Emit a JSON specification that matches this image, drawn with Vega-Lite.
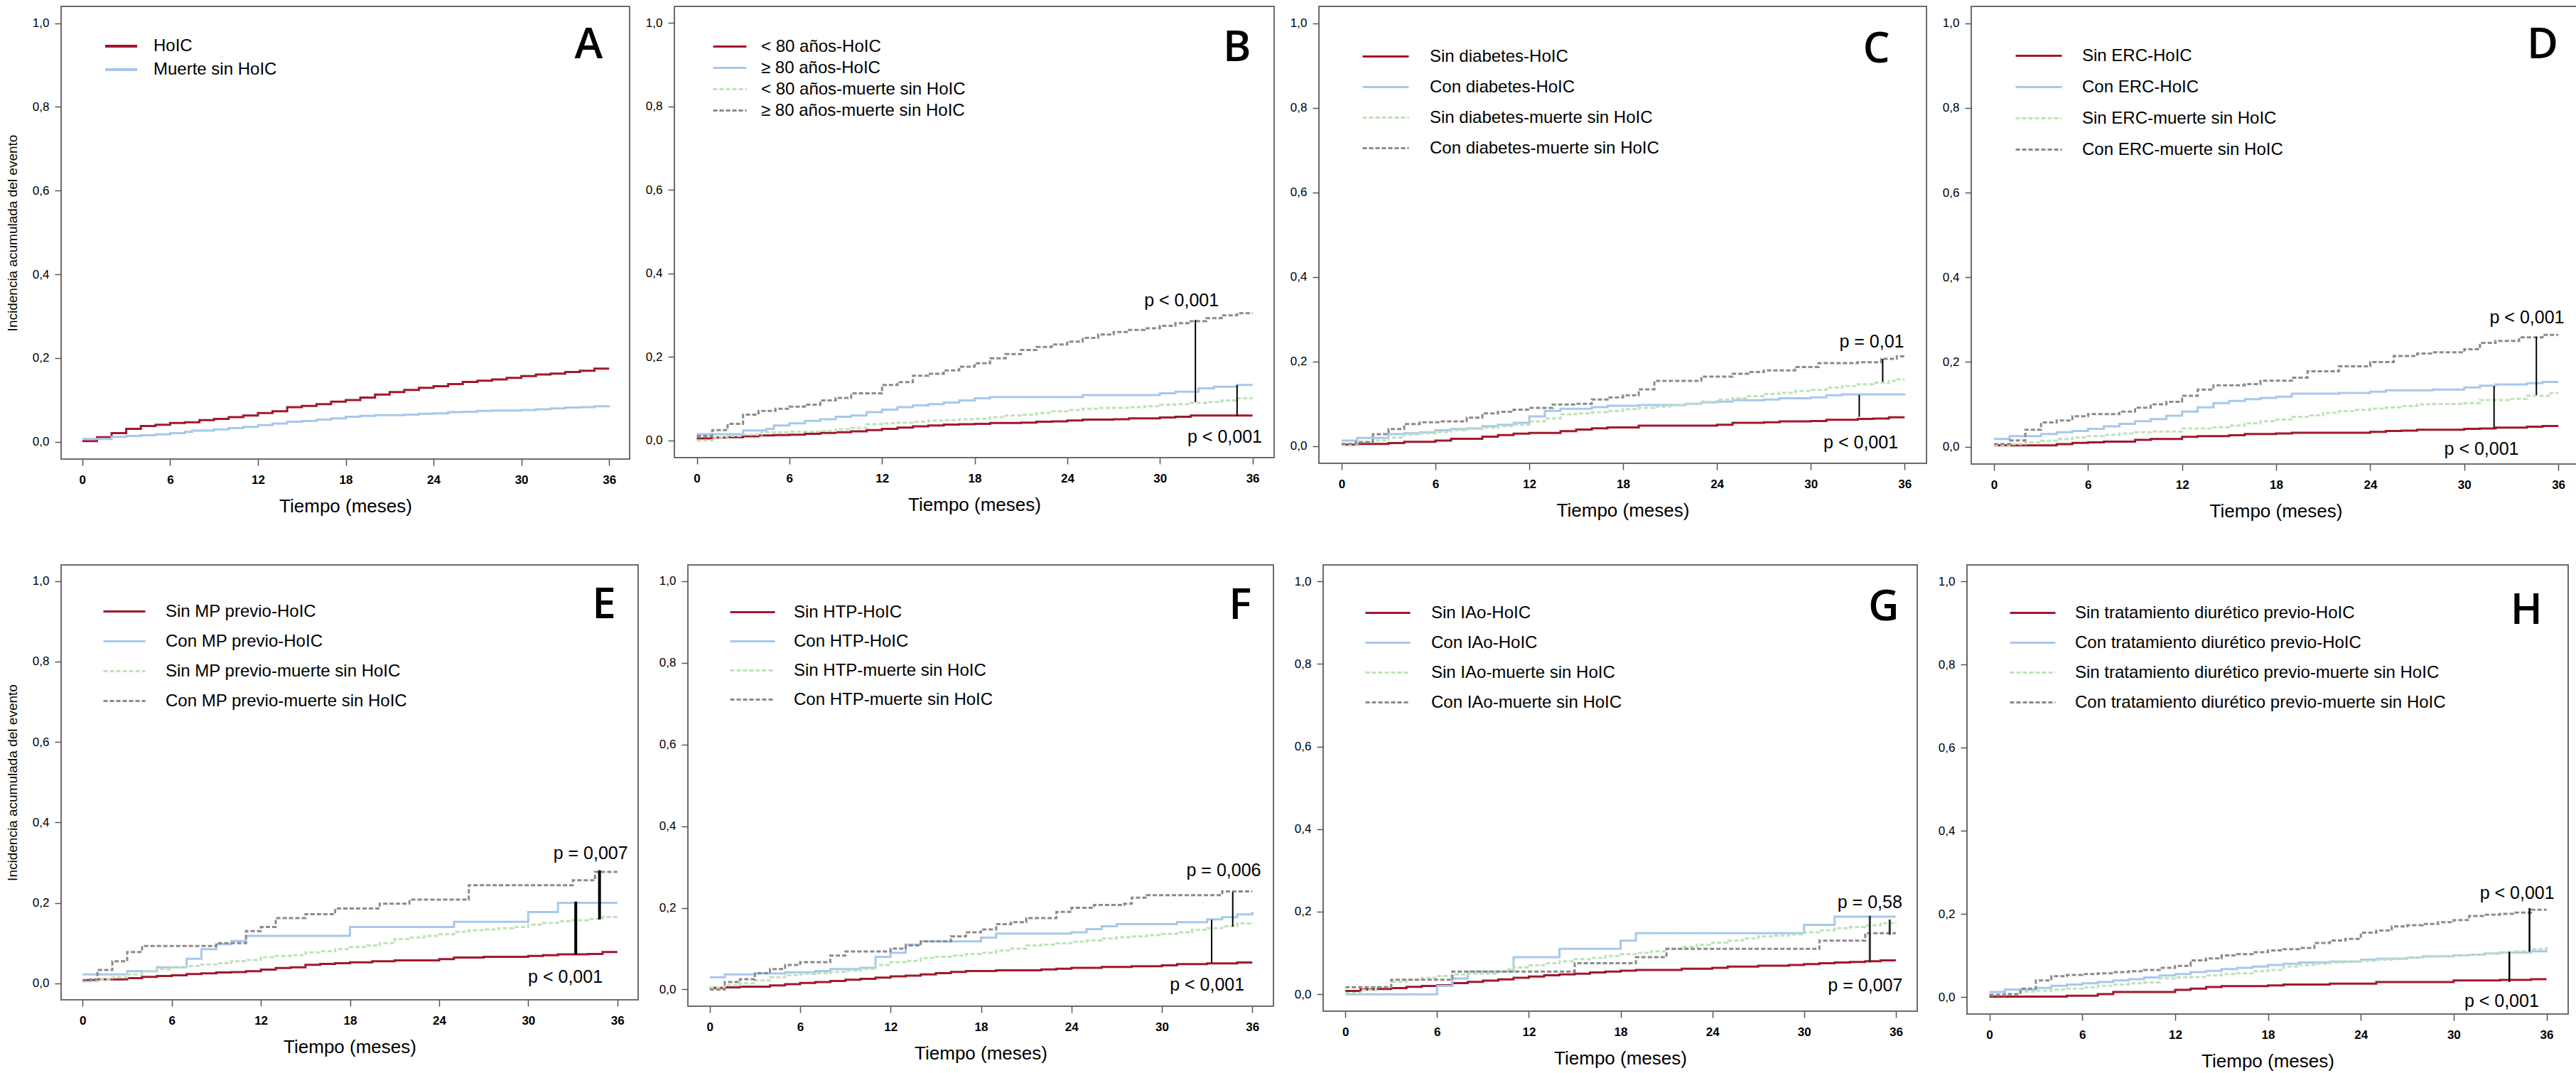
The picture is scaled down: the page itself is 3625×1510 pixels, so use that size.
{
"$schema": "https://vega.github.io/schema/vega-lite/v6.json",
"background": "white",
"padding": {"left": 7, "top": 8, "right": 5, "bottom": 5},
"config": {
  "font": "Liberation Sans",
  "view": {"stroke": "#6b6b6b", "strokeWidth": 2},
  "axis": {"grid": false, "domain": false, "tickSize": 9, "tickWidth": 1.5, "tickColor": "#555555", "labelColor": "black", "titleColor": "black", "labelFont": "Liberation Sans", "titleFontWeight": "normal"},
  "axisX": {"labelFontSize": 17, "labelFontWeight": "bold", "labelPadding": 12, "titleFont": "Liberation Sans", "titleFontSize": 26, "titlePadding": 16},
  "axisY": {"labelFontSize": 17, "labelPadding": 8, "titleFont": "Liberation Sans", "titleFontSize": 19, "titlePadding": 18},
  "legend": {"labelFont": "Liberation Sans", "labelFontSize": 24, "labelColor": "black", "labelLimit": 0, "padding": 0, "symbolStrokeWidth": 3, "symbolSize": 441}
},
"datasets": {
"A": [
{"s":1,"t":0,"y":0.002},{"s":1,"t":1,"y":0.011},{"s":1,"t":2,"y":0.021},{"s":1,"t":3,"y":0.031},{"s":1,"t":4,"y":0.038},{"s":1,"t":5,"y":0.041},{"s":1,"t":6,"y":0.045},{"s":1,"t":7,"y":0.047},{"s":1,"t":8,"y":0.052},{"s":1,"t":9,"y":0.055},{"s":1,"t":10,"y":0.059},{"s":1,"t":11,"y":0.063},{"s":1,"t":12,"y":0.069},{"s":1,"t":13,"y":0.073},{"s":1,"t":14,"y":0.083},{"s":1,"t":15,"y":0.086},{"s":1,"t":16,"y":0.09},{"s":1,"t":17,"y":0.096},{"s":1,"t":18,"y":0.1},{"s":1,"t":19,"y":0.106},{"s":1,"t":20,"y":0.113},{"s":1,"t":21,"y":0.119},{"s":1,"t":22,"y":0.124},{"s":1,"t":23,"y":0.129},{"s":1,"t":24,"y":0.133},{"s":1,"t":25,"y":0.138},{"s":1,"t":26,"y":0.143},{"s":1,"t":27,"y":0.146},{"s":1,"t":28,"y":0.149},{"s":1,"t":29,"y":0.153},{"s":1,"t":30,"y":0.157},{"s":1,"t":31,"y":0.161},{"s":1,"t":32,"y":0.163},{"s":1,"t":33,"y":0.167},{"s":1,"t":34,"y":0.17},{"s":1,"t":35,"y":0.175},{"s":1,"t":36,"y":0.175},
{"s":2,"t":0,"y":0.007},{"s":2,"t":2,"y":0.012},{"s":2,"t":3,"y":0.014},{"s":2,"t":4,"y":0.016},{"s":2,"t":5,"y":0.018},{"s":2,"t":6,"y":0.021},{"s":2,"t":7,"y":0.024},{"s":2,"t":7.5,"y":0.027},{"s":2,"t":9,"y":0.03},{"s":2,"t":10,"y":0.033},{"s":2,"t":11,"y":0.036},{"s":2,"t":12,"y":0.04},{"s":2,"t":13,"y":0.044},{"s":2,"t":14,"y":0.048},{"s":2,"t":15,"y":0.05},{"s":2,"t":16,"y":0.053},{"s":2,"t":17,"y":0.056},{"s":2,"t":18,"y":0.06},{"s":2,"t":19,"y":0.062},{"s":2,"t":20,"y":0.064},{"s":2,"t":22,"y":0.065},{"s":2,"t":23,"y":0.067},{"s":2,"t":24,"y":0.068},{"s":2,"t":25,"y":0.071},{"s":2,"t":26,"y":0.072},{"s":2,"t":27,"y":0.074},{"s":2,"t":28,"y":0.075},{"s":2,"t":30,"y":0.076},{"s":2,"t":31,"y":0.078},{"s":2,"t":32,"y":0.08},{"s":2,"t":33,"y":0.082},{"s":2,"t":34,"y":0.083},{"s":2,"t":35,"y":0.085},{"s":2,"t":36,"y":0.086}
],
"B": [
{"s":1,"t":0,"y":0.005},{"s":1,"t":1,"y":0.007},{"s":1,"t":2,"y":0.008},{"s":1,"t":3,"y":0.01},{"s":1,"t":4,"y":0.012},{"s":1,"t":5,"y":0.013},{"s":1,"t":6,"y":0.014},{"s":1,"t":7,"y":0.016},{"s":1,"t":8,"y":0.018},{"s":1,"t":9,"y":0.02},{"s":1,"t":10,"y":0.022},{"s":1,"t":11,"y":0.025},{"s":1,"t":12,"y":0.028},{"s":1,"t":13,"y":0.031},{"s":1,"t":14,"y":0.034},{"s":1,"t":15,"y":0.036},{"s":1,"t":16,"y":0.038},{"s":1,"t":17,"y":0.039},{"s":1,"t":18,"y":0.04},{"s":1,"t":19,"y":0.042},{"s":1,"t":21,"y":0.043},{"s":1,"t":22,"y":0.045},{"s":1,"t":23,"y":0.046},{"s":1,"t":24,"y":0.048},{"s":1,"t":25,"y":0.05},{"s":1,"t":27,"y":0.051},{"s":1,"t":28,"y":0.053},{"s":1,"t":30,"y":0.055},{"s":1,"t":31,"y":0.057},{"s":1,"t":32,"y":0.06},{"s":1,"t":36,"y":0.06},
{"s":2,"t":0,"y":0.015},{"s":2,"t":3,"y":0.024},{"s":2,"t":4.5,"y":0.028},{"s":2,"t":5,"y":0.036},{"s":2,"t":6,"y":0.041},{"s":2,"t":7,"y":0.047},{"s":2,"t":8,"y":0.051},{"s":2,"t":9,"y":0.057},{"s":2,"t":10,"y":0.06},{"s":2,"t":11,"y":0.068},{"s":2,"t":12,"y":0.074},{"s":2,"t":13,"y":0.08},{"s":2,"t":14,"y":0.084},{"s":2,"t":15,"y":0.087},{"s":2,"t":16,"y":0.091},{"s":2,"t":17,"y":0.096},{"s":2,"t":18,"y":0.101},{"s":2,"t":19,"y":0.104},{"s":2,"t":25,"y":0.109},{"s":2,"t":30,"y":0.113},{"s":2,"t":31,"y":0.117},{"s":2,"t":32.5,"y":0.125},{"s":2,"t":33.5,"y":0.129},{"s":2,"t":35,"y":0.133},{"s":2,"t":36,"y":0.133},
{"s":3,"t":0,"y":0},{"s":3,"t":1,"y":0.008},{"s":3,"t":2,"y":0.011},{"s":3,"t":3,"y":0.014},{"s":3,"t":4.2,"y":0.02},{"s":3,"t":6,"y":0.021},{"s":3,"t":8,"y":0.023},{"s":3,"t":9,"y":0.027},{"s":3,"t":10,"y":0.03},{"s":3,"t":11,"y":0.039},{"s":3,"t":12,"y":0.041},{"s":3,"t":13,"y":0.043},{"s":3,"t":14,"y":0.045},{"s":3,"t":15,"y":0.048},{"s":3,"t":16,"y":0.049},{"s":3,"t":17,"y":0.051},{"s":3,"t":18,"y":0.052},{"s":3,"t":19,"y":0.056},{"s":3,"t":20,"y":0.06},{"s":3,"t":21,"y":0.062},{"s":3,"t":22,"y":0.066},{"s":3,"t":23,"y":0.07},{"s":3,"t":24,"y":0.073},{"s":3,"t":25,"y":0.076},{"s":3,"t":26,"y":0.078},{"s":3,"t":28,"y":0.08},{"s":3,"t":29,"y":0.082},{"s":3,"t":30,"y":0.086},{"s":3,"t":31,"y":0.087},{"s":3,"t":32,"y":0.09},{"s":3,"t":33,"y":0.092},{"s":3,"t":34,"y":0.096},{"s":3,"t":35,"y":0.101},{"s":3,"t":36,"y":0.101},
{"s":4,"t":0,"y":0.011},{"s":4,"t":1,"y":0.025},{"s":4,"t":2,"y":0.04},{"s":4,"t":3,"y":0.062},{"s":4,"t":4,"y":0.071},{"s":4,"t":5.1,"y":0.076},{"s":4,"t":6,"y":0.081},{"s":4,"t":7,"y":0.086},{"s":4,"t":8,"y":0.096},{"s":4,"t":9,"y":0.102},{"s":4,"t":10,"y":0.113},{"s":4,"t":12,"y":0.133},{"s":4,"t":13,"y":0.14},{"s":4,"t":14,"y":0.155},{"s":4,"t":15,"y":0.16},{"s":4,"t":16,"y":0.168},{"s":4,"t":17,"y":0.177},{"s":4,"t":18,"y":0.185},{"s":4,"t":19,"y":0.197},{"s":4,"t":20,"y":0.207},{"s":4,"t":21,"y":0.217},{"s":4,"t":22,"y":0.224},{"s":4,"t":23,"y":0.23},{"s":4,"t":24,"y":0.237},{"s":4,"t":25,"y":0.246},{"s":4,"t":26,"y":0.254},{"s":4,"t":27,"y":0.26},{"s":4,"t":28,"y":0.265},{"s":4,"t":29,"y":0.269},{"s":4,"t":30,"y":0.275},{"s":4,"t":31,"y":0.281},{"s":4,"t":32,"y":0.286},{"s":4,"t":33,"y":0.293},{"s":4,"t":34,"y":0.3},{"s":4,"t":35,"y":0.305},{"s":4,"t":36,"y":0.305}
],
"C": [
{"s":1,"t":0,"y":0.003},{"s":1,"t":1,"y":0.005},{"s":1,"t":3,"y":0.007},{"s":1,"t":4,"y":0.01},{"s":1,"t":6,"y":0.013},{"s":1,"t":7,"y":0.017},{"s":1,"t":9,"y":0.022},{"s":1,"t":10,"y":0.026},{"s":1,"t":11,"y":0.029},{"s":1,"t":12,"y":0.031},{"s":1,"t":14,"y":0.035},{"s":1,"t":15,"y":0.039},{"s":1,"t":16,"y":0.042},{"s":1,"t":17,"y":0.044},{"s":1,"t":19,"y":0.048},{"s":1,"t":24,"y":0.05},{"s":1,"t":25,"y":0.055},{"s":1,"t":27,"y":0.056},{"s":1,"t":28,"y":0.058},{"s":1,"t":30,"y":0.059},{"s":1,"t":31,"y":0.062},{"s":1,"t":33,"y":0.064},{"s":1,"t":34,"y":0.065},{"s":1,"t":35,"y":0.068},{"s":1,"t":36,"y":0.068},
{"s":2,"t":0,"y":0.013},{"s":2,"t":1,"y":0.019},{"s":2,"t":3,"y":0.028},{"s":2,"t":4,"y":0.03},{"s":2,"t":5,"y":0.032},{"s":2,"t":6,"y":0.037},{"s":2,"t":7,"y":0.04},{"s":2,"t":8,"y":0.042},{"s":2,"t":9,"y":0.047},{"s":2,"t":10,"y":0.05},{"s":2,"t":11,"y":0.055},{"s":2,"t":12,"y":0.07},{"s":2,"t":13,"y":0.083},{"s":2,"t":14,"y":0.088},{"s":2,"t":16,"y":0.092},{"s":2,"t":17,"y":0.095},{"s":2,"t":19,"y":0.097},{"s":2,"t":22,"y":0.1},{"s":2,"t":23,"y":0.103},{"s":2,"t":24,"y":0.105},{"s":2,"t":25,"y":0.108},{"s":2,"t":27,"y":0.11},{"s":2,"t":28,"y":0.113},{"s":2,"t":30,"y":0.115},{"s":2,"t":31,"y":0.12},{"s":2,"t":32,"y":0.122},{"s":2,"t":36,"y":0.123},
{"s":3,"t":0,"y":0.003},{"s":3,"t":1,"y":0.01},{"s":3,"t":2,"y":0.013},{"s":3,"t":3,"y":0.02},{"s":3,"t":4,"y":0.027},{"s":3,"t":5,"y":0.03},{"s":3,"t":6,"y":0.033},{"s":3,"t":7,"y":0.037},{"s":3,"t":8,"y":0.04},{"s":3,"t":9,"y":0.043},{"s":3,"t":10,"y":0.047},{"s":3,"t":11,"y":0.05},{"s":3,"t":12,"y":0.058},{"s":3,"t":13,"y":0.065},{"s":3,"t":14,"y":0.075},{"s":3,"t":15,"y":0.077},{"s":3,"t":16,"y":0.08},{"s":3,"t":17,"y":0.083},{"s":3,"t":18,"y":0.087},{"s":3,"t":19,"y":0.09},{"s":3,"t":20,"y":0.093},{"s":3,"t":21,"y":0.097},{"s":3,"t":22,"y":0.1},{"s":3,"t":23,"y":0.105},{"s":3,"t":24,"y":0.11},{"s":3,"t":25,"y":0.113},{"s":3,"t":26,"y":0.118},{"s":3,"t":27,"y":0.123},{"s":3,"t":28,"y":0.126},{"s":3,"t":29,"y":0.13},{"s":3,"t":30,"y":0.133},{"s":3,"t":31,"y":0.138},{"s":3,"t":32,"y":0.142},{"s":3,"t":33,"y":0.146},{"s":3,"t":34,"y":0.15},{"s":3,"t":35,"y":0.154},{"s":3,"t":35.5,"y":0.158},{"s":3,"t":36,"y":0.158},
{"s":4,"t":0,"y":0.005},{"s":4,"t":0.9,"y":0.009},{"s":4,"t":2,"y":0.028},{"s":4,"t":3,"y":0.04},{"s":4,"t":4,"y":0.052},{"s":4,"t":5,"y":0.056},{"s":4,"t":6.3,"y":0.058},{"s":4,"t":8,"y":0.067},{"s":4,"t":9,"y":0.077},{"s":4,"t":10,"y":0.081},{"s":4,"t":11,"y":0.086},{"s":4,"t":12,"y":0.09},{"s":4,"t":13.5,"y":0.098},{"s":4,"t":15,"y":0.1},{"s":4,"t":16,"y":0.11},{"s":4,"t":17,"y":0.115},{"s":4,"t":18,"y":0.12},{"s":4,"t":19,"y":0.134},{"s":4,"t":20,"y":0.154},{"s":4,"t":23,"y":0.164},{"s":4,"t":25,"y":0.171},{"s":4,"t":26,"y":0.175},{"s":4,"t":27,"y":0.179},{"s":4,"t":29,"y":0.187},{"s":4,"t":30.5,"y":0.196},{"s":4,"t":33,"y":0.198},{"s":4,"t":34.5,"y":0.206},{"s":4,"t":35.5,"y":0.212},{"s":4,"t":36,"y":0.212}
],
"D": [
{"s":1,"t":0,"y":0.003},{"s":1,"t":4,"y":0.006},{"s":1,"t":5,"y":0.009},{"s":1,"t":6,"y":0.01},{"s":1,"t":7,"y":0.012},{"s":1,"t":9,"y":0.016},{"s":1,"t":10,"y":0.018},{"s":1,"t":12,"y":0.023},{"s":1,"t":13,"y":0.025},{"s":1,"t":15,"y":0.027},{"s":1,"t":16,"y":0.03},{"s":1,"t":18,"y":0.031},{"s":1,"t":19,"y":0.033},{"s":1,"t":24,"y":0.035},{"s":1,"t":25,"y":0.037},{"s":1,"t":26,"y":0.038},{"s":1,"t":27,"y":0.04},{"s":1,"t":30,"y":0.042},{"s":1,"t":31,"y":0.043},{"s":1,"t":32,"y":0.045},{"s":1,"t":34,"y":0.047},{"s":1,"t":35,"y":0.049},{"s":1,"t":36,"y":0.049},
{"s":2,"t":0,"y":0.018},{"s":2,"t":1,"y":0.025},{"s":2,"t":3,"y":0.03},{"s":2,"t":4,"y":0.034},{"s":2,"t":5,"y":0.037},{"s":2,"t":6,"y":0.042},{"s":2,"t":7,"y":0.048},{"s":2,"t":8,"y":0.054},{"s":2,"t":9,"y":0.06},{"s":2,"t":10,"y":0.065},{"s":2,"t":11,"y":0.073},{"s":2,"t":12,"y":0.083},{"s":2,"t":13,"y":0.093},{"s":2,"t":14,"y":0.103},{"s":2,"t":15,"y":0.108},{"s":2,"t":16,"y":0.112},{"s":2,"t":17,"y":0.115},{"s":2,"t":18,"y":0.118},{"s":2,"t":19,"y":0.125},{"s":2,"t":22,"y":0.127},{"s":2,"t":24,"y":0.13},{"s":2,"t":25,"y":0.133},{"s":2,"t":28,"y":0.135},{"s":2,"t":30,"y":0.14},{"s":2,"t":31,"y":0.144},{"s":2,"t":32,"y":0.147},{"s":2,"t":34,"y":0.15},{"s":2,"t":35,"y":0.153},{"s":2,"t":36,"y":0.153},
{"s":3,"t":0,"y":0.003},{"s":3,"t":1,"y":0.006},{"s":3,"t":2,"y":0.01},{"s":3,"t":3,"y":0.014},{"s":3,"t":4,"y":0.018},{"s":3,"t":5,"y":0.022},{"s":3,"t":6,"y":0.025},{"s":3,"t":7,"y":0.028},{"s":3,"t":8,"y":0.031},{"s":3,"t":9,"y":0.034},{"s":3,"t":10,"y":0.036},{"s":3,"t":12,"y":0.043},{"s":3,"t":14,"y":0.046},{"s":3,"t":15,"y":0.05},{"s":3,"t":16,"y":0.055},{"s":3,"t":17,"y":0.06},{"s":3,"t":18,"y":0.064},{"s":3,"t":19,"y":0.07},{"s":3,"t":20,"y":0.074},{"s":3,"t":21,"y":0.08},{"s":3,"t":22,"y":0.084},{"s":3,"t":23,"y":0.087},{"s":3,"t":24,"y":0.09},{"s":3,"t":25,"y":0.093},{"s":3,"t":26,"y":0.096},{"s":3,"t":27,"y":0.1},{"s":3,"t":28,"y":0.101},{"s":3,"t":30,"y":0.103},{"s":3,"t":31,"y":0.11},{"s":3,"t":33,"y":0.113},{"s":3,"t":34,"y":0.12},{"s":3,"t":35.5,"y":0.127},{"s":3,"t":36,"y":0.127},
{"s":4,"t":0,"y":0.006},{"s":4,"t":1,"y":0.015},{"s":4,"t":2,"y":0.04},{"s":4,"t":3,"y":0.057},{"s":4,"t":4,"y":0.062},{"s":4,"t":5,"y":0.072},{"s":4,"t":6,"y":0.077},{"s":4,"t":8,"y":0.083},{"s":4,"t":9,"y":0.092},{"s":4,"t":10,"y":0.1},{"s":4,"t":11,"y":0.106},{"s":4,"t":12,"y":0.12},{"s":4,"t":13,"y":0.135},{"s":4,"t":14,"y":0.145},{"s":4,"t":16,"y":0.148},{"s":4,"t":17,"y":0.156},{"s":4,"t":19,"y":0.163},{"s":4,"t":20,"y":0.178},{"s":4,"t":22,"y":0.19},{"s":4,"t":24,"y":0.2},{"s":4,"t":25.5,"y":0.214},{"s":4,"t":27,"y":0.22},{"s":4,"t":28,"y":0.223},{"s":4,"t":30,"y":0.23},{"s":4,"t":31,"y":0.245},{"s":4,"t":32,"y":0.25},{"s":4,"t":33.5,"y":0.258},{"s":4,"t":35,"y":0.264},{"s":4,"t":36,"y":0.264}
],
"E": [
{"s":1,"t":0,"y":0.008},{"s":1,"t":1,"y":0.01},{"s":1,"t":3,"y":0.013},{"s":1,"t":4,"y":0.016},{"s":1,"t":5,"y":0.018},{"s":1,"t":6,"y":0.02},{"s":1,"t":7,"y":0.023},{"s":1,"t":8,"y":0.025},{"s":1,"t":9,"y":0.027},{"s":1,"t":10,"y":0.028},{"s":1,"t":11,"y":0.03},{"s":1,"t":12,"y":0.034},{"s":1,"t":13,"y":0.038},{"s":1,"t":14,"y":0.04},{"s":1,"t":15,"y":0.046},{"s":1,"t":16,"y":0.048},{"s":1,"t":17,"y":0.05},{"s":1,"t":18,"y":0.052},{"s":1,"t":19.5,"y":0.055},{"s":1,"t":21,"y":0.057},{"s":1,"t":24,"y":0.06},{"s":1,"t":25,"y":0.064},{"s":1,"t":27,"y":0.066},{"s":1,"t":30,"y":0.068},{"s":1,"t":31,"y":0.07},{"s":1,"t":32,"y":0.072},{"s":1,"t":34,"y":0.073},{"s":1,"t":35,"y":0.078},{"s":1,"t":36,"y":0.078},
{"s":2,"t":0,"y":0.022},{"s":2,"t":3,"y":0.03},{"s":2,"t":5,"y":0.04},{"s":2,"t":7,"y":0.061},{"s":2,"t":8,"y":0.085},{"s":2,"t":9,"y":0.097},{"s":2,"t":10,"y":0.105},{"s":2,"t":11,"y":0.118},{"s":2,"t":18,"y":0.14},{"s":2,"t":25,"y":0.153},{"s":2,"t":30,"y":0.177},{"s":2,"t":32,"y":0.2},{"s":2,"t":36,"y":0.2},
{"s":3,"t":0,"y":0.005},{"s":3,"t":1,"y":0.01},{"s":3,"t":2,"y":0.015},{"s":3,"t":3,"y":0.022},{"s":3,"t":4,"y":0.03},{"s":3,"t":5,"y":0.035},{"s":3,"t":6,"y":0.04},{"s":3,"t":7,"y":0.043},{"s":3,"t":8,"y":0.047},{"s":3,"t":9,"y":0.05},{"s":3,"t":10,"y":0.055},{"s":3,"t":11,"y":0.058},{"s":3,"t":12,"y":0.065},{"s":3,"t":13,"y":0.068},{"s":3,"t":14,"y":0.07},{"s":3,"t":15,"y":0.077},{"s":3,"t":16,"y":0.08},{"s":3,"t":17,"y":0.085},{"s":3,"t":18,"y":0.09},{"s":3,"t":19,"y":0.094},{"s":3,"t":20,"y":0.1},{"s":3,"t":21,"y":0.11},{"s":3,"t":22,"y":0.114},{"s":3,"t":23,"y":0.118},{"s":3,"t":24,"y":0.122},{"s":3,"t":25,"y":0.128},{"s":3,"t":26,"y":0.132},{"s":3,"t":27,"y":0.134},{"s":3,"t":28,"y":0.137},{"s":3,"t":29,"y":0.14},{"s":3,"t":30,"y":0.146},{"s":3,"t":31,"y":0.15},{"s":3,"t":32,"y":0.154},{"s":3,"t":33,"y":0.157},{"s":3,"t":34,"y":0.16},{"s":3,"t":35,"y":0.165},{"s":3,"t":36,"y":0.165},
{"s":4,"t":0,"y":0.007},{"s":4,"t":0.5,"y":0.01},{"s":4,"t":1,"y":0.033},{"s":4,"t":2,"y":0.055},{"s":4,"t":3,"y":0.078},{"s":4,"t":4,"y":0.093},{"s":4,"t":9,"y":0.1},{"s":4,"t":11,"y":0.13},{"s":4,"t":12,"y":0.14},{"s":4,"t":13,"y":0.162},{"s":4,"t":15,"y":0.172},{"s":4,"t":17,"y":0.186},{"s":4,"t":20,"y":0.198},{"s":4,"t":22,"y":0.208},{"s":4,"t":26,"y":0.244},{"s":4,"t":33,"y":0.256},{"s":4,"t":34.5,"y":0.277},{"s":4,"t":36,"y":0.277}
],
"F": [
{"s":1,"t":0,"y":0.004},{"s":1,"t":1,"y":0.005},{"s":1,"t":2,"y":0.007},{"s":1,"t":4,"y":0.01},{"s":1,"t":5,"y":0.013},{"s":1,"t":6,"y":0.016},{"s":1,"t":7,"y":0.018},{"s":1,"t":8,"y":0.021},{"s":1,"t":9,"y":0.024},{"s":1,"t":10,"y":0.026},{"s":1,"t":11,"y":0.029},{"s":1,"t":12,"y":0.032},{"s":1,"t":13,"y":0.034},{"s":1,"t":14,"y":0.037},{"s":1,"t":15,"y":0.04},{"s":1,"t":16,"y":0.043},{"s":1,"t":17,"y":0.045},{"s":1,"t":19,"y":0.047},{"s":1,"t":22,"y":0.049},{"s":1,"t":23,"y":0.051},{"s":1,"t":24,"y":0.053},{"s":1,"t":26,"y":0.055},{"s":1,"t":28,"y":0.057},{"s":1,"t":30,"y":0.059},{"s":1,"t":31,"y":0.062},{"s":1,"t":33,"y":0.064},{"s":1,"t":35,"y":0.066},{"s":1,"t":36,"y":0.066},
{"s":2,"t":0,"y":0.03},{"s":2,"t":1,"y":0.037},{"s":2,"t":3,"y":0.039},{"s":2,"t":5,"y":0.042},{"s":2,"t":7,"y":0.045},{"s":2,"t":8,"y":0.05},{"s":2,"t":10,"y":0.053},{"s":2,"t":11,"y":0.08},{"s":2,"t":12,"y":0.09},{"s":2,"t":13,"y":0.11},{"s":2,"t":14,"y":0.118},{"s":2,"t":18,"y":0.127},{"s":2,"t":19,"y":0.137},{"s":2,"t":24,"y":0.14},{"s":2,"t":25,"y":0.148},{"s":2,"t":26,"y":0.155},{"s":2,"t":27,"y":0.16},{"s":2,"t":31,"y":0.165},{"s":2,"t":33,"y":0.172},{"s":2,"t":34,"y":0.177},{"s":2,"t":35,"y":0.184},{"s":2,"t":36,"y":0.19},
{"s":3,"t":0,"y":0.005},{"s":3,"t":1,"y":0.01},{"s":3,"t":2,"y":0.015},{"s":3,"t":3,"y":0.022},{"s":3,"t":4,"y":0.03},{"s":3,"t":5,"y":0.035},{"s":3,"t":6,"y":0.038},{"s":3,"t":7,"y":0.04},{"s":3,"t":8,"y":0.043},{"s":3,"t":9,"y":0.046},{"s":3,"t":10,"y":0.05},{"s":3,"t":11,"y":0.06},{"s":3,"t":12,"y":0.067},{"s":3,"t":13,"y":0.07},{"s":3,"t":14,"y":0.077},{"s":3,"t":15,"y":0.08},{"s":3,"t":16,"y":0.083},{"s":3,"t":17,"y":0.087},{"s":3,"t":18,"y":0.09},{"s":3,"t":19,"y":0.095},{"s":3,"t":20,"y":0.1},{"s":3,"t":21,"y":0.108},{"s":3,"t":22,"y":0.11},{"s":3,"t":23,"y":0.113},{"s":3,"t":24,"y":0.117},{"s":3,"t":25,"y":0.12},{"s":3,"t":26,"y":0.125},{"s":3,"t":27,"y":0.128},{"s":3,"t":28,"y":0.13},{"s":3,"t":29,"y":0.133},{"s":3,"t":30,"y":0.136},{"s":3,"t":31,"y":0.14},{"s":3,"t":32,"y":0.146},{"s":3,"t":33,"y":0.15},{"s":3,"t":34,"y":0.155},{"s":3,"t":35,"y":0.162},{"s":3,"t":36,"y":0.165},
{"s":4,"t":0,"y":0},{"s":4,"t":1,"y":0.018},{"s":4,"t":2,"y":0.025},{"s":4,"t":3,"y":0.04},{"s":4,"t":4,"y":0.05},{"s":4,"t":5,"y":0.06},{"s":4,"t":6,"y":0.067},{"s":4,"t":8,"y":0.083},{"s":4,"t":9,"y":0.093},{"s":4,"t":12,"y":0.1},{"s":4,"t":13,"y":0.108},{"s":4,"t":14,"y":0.118},{"s":4,"t":16,"y":0.13},{"s":4,"t":17,"y":0.14},{"s":4,"t":18,"y":0.147},{"s":4,"t":19,"y":0.16},{"s":4,"t":20,"y":0.165},{"s":4,"t":21,"y":0.175},{"s":4,"t":23,"y":0.19},{"s":4,"t":24,"y":0.2},{"s":4,"t":25.5,"y":0.207},{"s":4,"t":27.5,"y":0.21},{"s":4,"t":28,"y":0.225},{"s":4,"t":29,"y":0.231},{"s":4,"t":34,"y":0.24},{"s":4,"t":36,"y":0.24}
],
"G": [
{"s":1,"t":0,"y":0.008},{"s":1,"t":1,"y":0.012},{"s":1,"t":2,"y":0.013},{"s":1,"t":3,"y":0.015},{"s":1,"t":4,"y":0.018},{"s":1,"t":5,"y":0.02},{"s":1,"t":6,"y":0.022},{"s":1,"t":7,"y":0.027},{"s":1,"t":8,"y":0.03},{"s":1,"t":9,"y":0.033},{"s":1,"t":10,"y":0.036},{"s":1,"t":11,"y":0.04},{"s":1,"t":12,"y":0.043},{"s":1,"t":13,"y":0.046},{"s":1,"t":14,"y":0.048},{"s":1,"t":15,"y":0.05},{"s":1,"t":16,"y":0.053},{"s":1,"t":17,"y":0.055},{"s":1,"t":18,"y":0.057},{"s":1,"t":19,"y":0.059},{"s":1,"t":22,"y":0.062},{"s":1,"t":24,"y":0.064},{"s":1,"t":25,"y":0.067},{"s":1,"t":27,"y":0.069},{"s":1,"t":29,"y":0.071},{"s":1,"t":30,"y":0.073},{"s":1,"t":31,"y":0.075},{"s":1,"t":32,"y":0.077},{"s":1,"t":33,"y":0.078},{"s":1,"t":34,"y":0.08},{"s":1,"t":35,"y":0.082},{"s":1,"t":36,"y":0.082},
{"s":2,"t":0,"y":0},{"s":2,"t":6,"y":0.02},{"s":2,"t":7,"y":0.038},{"s":2,"t":8,"y":0.055},{"s":2,"t":11,"y":0.09},{"s":2,"t":14,"y":0.11},{"s":2,"t":18,"y":0.13},{"s":2,"t":19,"y":0.148},{"s":2,"t":30,"y":0.168},{"s":2,"t":32,"y":0.188},{"s":2,"t":36,"y":0.188},
{"s":3,"t":0,"y":0.003},{"s":3,"t":1,"y":0.01},{"s":3,"t":2,"y":0.018},{"s":3,"t":3,"y":0.03},{"s":3,"t":4,"y":0.035},{"s":3,"t":5,"y":0.04},{"s":3,"t":6,"y":0.044},{"s":3,"t":7,"y":0.048},{"s":3,"t":8,"y":0.05},{"s":3,"t":10,"y":0.055},{"s":3,"t":10.5,"y":0.06},{"s":3,"t":11,"y":0.065},{"s":3,"t":12,"y":0.07},{"s":3,"t":13,"y":0.075},{"s":3,"t":14,"y":0.08},{"s":3,"t":15,"y":0.085},{"s":3,"t":16,"y":0.088},{"s":3,"t":17,"y":0.093},{"s":3,"t":18,"y":0.097},{"s":3,"t":19,"y":0.1},{"s":3,"t":20,"y":0.104},{"s":3,"t":21,"y":0.11},{"s":3,"t":22,"y":0.115},{"s":3,"t":23,"y":0.12},{"s":3,"t":24,"y":0.125},{"s":3,"t":25,"y":0.13},{"s":3,"t":26,"y":0.135},{"s":3,"t":27,"y":0.14},{"s":3,"t":28,"y":0.142},{"s":3,"t":29,"y":0.145},{"s":3,"t":30,"y":0.15},{"s":3,"t":31,"y":0.155},{"s":3,"t":32,"y":0.16},{"s":3,"t":33,"y":0.163},{"s":3,"t":34,"y":0.167},{"s":3,"t":35,"y":0.172},{"s":3,"t":36,"y":0.175},
{"s":4,"t":0,"y":0.017},{"s":4,"t":3,"y":0.035},{"s":4,"t":7,"y":0.055},{"s":4,"t":15,"y":0.075},{"s":4,"t":19,"y":0.09},{"s":4,"t":21,"y":0.11},{"s":4,"t":31,"y":0.13},{"s":4,"t":34,"y":0.148},{"s":4,"t":36,"y":0.148}
],
"H": [
{"s":1,"t":0,"y":0.001},{"s":1,"t":5,"y":0.003},{"s":1,"t":7,"y":0.007},{"s":1,"t":8,"y":0.012},{"s":1,"t":12,"y":0.017},{"s":1,"t":13,"y":0.02},{"s":1,"t":14,"y":0.024},{"s":1,"t":15,"y":0.026},{"s":1,"t":18,"y":0.028},{"s":1,"t":19,"y":0.03},{"s":1,"t":22,"y":0.032},{"s":1,"t":25,"y":0.036},{"s":1,"t":30,"y":0.04},{"s":1,"t":33,"y":0.041},{"s":1,"t":35,"y":0.043},{"s":1,"t":36,"y":0.043},
{"s":2,"t":0,"y":0.012},{"s":2,"t":1,"y":0.018},{"s":2,"t":3,"y":0.022},{"s":2,"t":4,"y":0.027},{"s":2,"t":5,"y":0.03},{"s":2,"t":6,"y":0.033},{"s":2,"t":7,"y":0.036},{"s":2,"t":8,"y":0.04},{"s":2,"t":9,"y":0.043},{"s":2,"t":10,"y":0.047},{"s":2,"t":11,"y":0.052},{"s":2,"t":12,"y":0.055},{"s":2,"t":13,"y":0.06},{"s":2,"t":14,"y":0.063},{"s":2,"t":15,"y":0.067},{"s":2,"t":16,"y":0.07},{"s":2,"t":17,"y":0.073},{"s":2,"t":18,"y":0.077},{"s":2,"t":19,"y":0.08},{"s":2,"t":20,"y":0.083},{"s":2,"t":22,"y":0.085},{"s":2,"t":24,"y":0.09},{"s":2,"t":25,"y":0.092},{"s":2,"t":27,"y":0.095},{"s":2,"t":28,"y":0.098},{"s":2,"t":30,"y":0.1},{"s":2,"t":31,"y":0.102},{"s":2,"t":32,"y":0.105},{"s":2,"t":33,"y":0.107},{"s":2,"t":35,"y":0.11},{"s":2,"t":36,"y":0.112},
{"s":3,"t":0,"y":0.005},{"s":3,"t":1,"y":0.007},{"s":3,"t":2,"y":0.013},{"s":3,"t":3,"y":0.015},{"s":3,"t":4,"y":0.018},{"s":3,"t":5,"y":0.02},{"s":3,"t":6,"y":0.023},{"s":3,"t":7,"y":0.027},{"s":3,"t":8,"y":0.03},{"s":3,"t":9,"y":0.033},{"s":3,"t":10,"y":0.035},{"s":3,"t":11,"y":0.045},{"s":3,"t":12,"y":0.047},{"s":3,"t":13,"y":0.048},{"s":3,"t":14,"y":0.052},{"s":3,"t":15,"y":0.055},{"s":3,"t":16,"y":0.057},{"s":3,"t":17,"y":0.062},{"s":3,"t":18,"y":0.065},{"s":3,"t":19,"y":0.073},{"s":3,"t":20,"y":0.077},{"s":3,"t":21,"y":0.08},{"s":3,"t":22,"y":0.083},{"s":3,"t":23,"y":0.085},{"s":3,"t":24,"y":0.087},{"s":3,"t":25,"y":0.09},{"s":3,"t":26,"y":0.093},{"s":3,"t":27,"y":0.095},{"s":3,"t":28,"y":0.097},{"s":3,"t":29,"y":0.098},{"s":3,"t":30,"y":0.1},{"s":3,"t":31,"y":0.102},{"s":3,"t":32,"y":0.105},{"s":3,"t":33,"y":0.108},{"s":3,"t":34,"y":0.11},{"s":3,"t":35,"y":0.115},{"s":3,"t":36,"y":0.12},
{"s":4,"t":0,"y":0.005},{"s":4,"t":1,"y":0.007},{"s":4,"t":2,"y":0.02},{"s":4,"t":3,"y":0.04},{"s":4,"t":4,"y":0.05},{"s":4,"t":5,"y":0.053},{"s":4,"t":6,"y":0.055},{"s":4,"t":7,"y":0.057},{"s":4,"t":8,"y":0.06},{"s":4,"t":9,"y":0.062},{"s":4,"t":10,"y":0.065},{"s":4,"t":11,"y":0.07},{"s":4,"t":12,"y":0.075},{"s":4,"t":13,"y":0.088},{"s":4,"t":14,"y":0.093},{"s":4,"t":15,"y":0.1},{"s":4,"t":16,"y":0.103},{"s":4,"t":17,"y":0.108},{"s":4,"t":18,"y":0.112},{"s":4,"t":19,"y":0.115},{"s":4,"t":20,"y":0.118},{"s":4,"t":21,"y":0.13},{"s":4,"t":22,"y":0.136},{"s":4,"t":23,"y":0.14},{"s":4,"t":24,"y":0.155},{"s":4,"t":25,"y":0.16},{"s":4,"t":26,"y":0.17},{"s":4,"t":27,"y":0.173},{"s":4,"t":28,"y":0.176},{"s":4,"t":29,"y":0.18},{"s":4,"t":30,"y":0.185},{"s":4,"t":31,"y":0.195},{"s":4,"t":32,"y":0.198},{"s":4,"t":33,"y":0.2},{"s":4,"t":34,"y":0.203},{"s":4,"t":35,"y":0.21},{"s":4,"t":36,"y":0.21}
]
},
"resolve": {"scale": {"color": "independent", "strokeDash": "independent"}, "legend": {"color": "independent", "strokeDash": "independent"}},
"spacing": 61,
"vconcat": [
{
"spacing": 20,
"resolve": {"scale": {"color": "independent", "strokeDash": "independent"}, "legend": {"color": "independent", "strokeDash": "independent"}},
"hconcat": [
{
"width": 800, "height": 637,
"layer": [
{"data": {"name": "A"}, "mark": {"type": "line", "interpolate": "step-after", "strokeWidth": 3},
 "encoding": {
  "x": {"field": "t", "type": "quantitative", "scale": {"domain": [-1.45, 37.4], "nice": false, "zero": false}, "axis": {"values": [0,6,12,18,24,30,36], "title": "Tiempo (meses)"}},
  "y": {"field": "y", "type": "quantitative", "scale": {"domain": [-0.041, 1.04], "nice": false, "zero": false}, "axis": {"values": [0,0.2,0.4,0.6,0.8,1], "labelExpr": "replace(format(datum.value,'.1f'),'.',',')", "title": "Incidencia acumulada del evento"}},
  "color": {"field": "s", "type": "nominal", "scale": {"domain": [1,2], "range": ["#A0182F","#A7C8EB"]}, "legend": {"title": null, "orient": "none", "legendX": 62, "legendY": 43.5, "symbolType": "M-1.19,0H3.095", "symbolStrokeWidth": 4, "labelOffset": 43, "rowPadding": 8, "labelExpr": "['HoIC','Muerte sin HoIC'][datum.value-1]"}},
  "strokeDash": {"field": "s", "type": "nominal", "scale": {"domain": [1,2], "range": [[1,0],[1,0]]}, "legend": {"title": null, "orient": "none", "legendX": 62, "legendY": 43.5, "symbolType": "M-1.19,0H3.095", "symbolStrokeWidth": 4, "labelOffset": 43, "rowPadding": 8, "labelExpr": "['HoIC','Muerte sin HoIC'][datum.value-1]"}}
 }},
{"data": {"values": [{}]}, "mark": {"type": "text", "font": "Open Sans", "fontSize": 60, "fontWeight": 600, "color": "black", "baseline": "middle"},
 "encoding": {"x": {"datum": 34.6, "type": "quantitative"}, "y": {"datum": 0.947, "type": "quantitative"}, "text": {"value": "A"}}}
]
},
{
"width": 844, "height": 635,
"layer": [
{"data": {"name": "B"}, "mark": {"type": "line", "interpolate": "step-after", "strokeWidth": 3},
 "encoding": {
  "x": {"field": "t", "type": "quantitative", "scale": {"domain": [-1.45, 37.4], "nice": false, "zero": false}, "axis": {"values": [0,6,12,18,24,30,36], "title": "Tiempo (meses)"}},
  "y": {"field": "y", "type": "quantitative", "scale": {"domain": [-0.041, 1.04], "nice": false, "zero": false}, "axis": {"values": [0,0.2,0.4,0.6,0.8,1], "labelExpr": "replace(format(datum.value,'.1f'),'.',',')", "title": null}},
  "color": {"field": "s", "type": "nominal", "scale": {"domain": [1,2,3,4], "range": ["#A0182F","#A7C8EB","#BFE2B8","#8A8A8A"]}, "legend": {"title": null, "orient": "none", "legendX": 55, "legendY": 44.5, "symbolType": "M-1.19,0H3.286", "labelOffset": 43, "rowPadding": 6, "labelExpr": "['< 80 años-HoIC','≥ 80 años-HoIC','< 80 años-muerte sin HoIC','≥ 80 años-muerte sin HoIC'][datum.value-1]"}},
  "strokeDash": {"field": "s", "type": "nominal", "scale": {"domain": [1,2,3,4], "range": [[1,0],[1,0],[6,3],[6,3]]}, "legend": {"title": null, "orient": "none", "legendX": 55, "legendY": 44.5, "symbolType": "M-1.19,0H3.286", "labelOffset": 43, "rowPadding": 6, "labelExpr": "['< 80 años-HoIC','≥ 80 años-HoIC','< 80 años-muerte sin HoIC','≥ 80 años-muerte sin HoIC'][datum.value-1]"}}
 }},
{"data": {"values": [{"t":32.3,"y":0.092,"y2":0.289},{"t":35,"y":0.059,"y2":0.133}]}, "mark": {"type": "rule", "color": "black", "strokeWidth": 2},
 "encoding": {"x": {"field": "t", "type": "quantitative"}, "y": {"field": "y", "type": "quantitative"}, "y2": {"field": "y2"}}},
{"data": {"values": [{"t":31.4,"y":0.336,"p":"p < 0,001"},{"t":34.2,"y":0.008,"p":"p < 0,001"}]}, "mark": {"type": "text", "font": "Liberation Sans", "fontSize": 25, "color": "black", "baseline": "middle"},
 "encoding": {"x": {"field": "t", "type": "quantitative"}, "y": {"field": "y", "type": "quantitative"}, "text": {"field": "p"}}},
{"data": {"values": [{}]}, "mark": {"type": "text", "font": "Open Sans", "fontSize": 60, "fontWeight": 600, "color": "black", "baseline": "middle"},
 "encoding": {"x": {"datum": 35.0, "type": "quantitative"}, "y": {"datum": 0.939, "type": "quantitative"}, "text": {"value": "B"}}}
]
},
{
"width": 855, "height": 643,
"layer": [
{"data": {"name": "C"}, "mark": {"type": "line", "interpolate": "step-after", "strokeWidth": 3},
 "encoding": {
  "x": {"field": "t", "type": "quantitative", "scale": {"domain": [-1.45, 37.4], "nice": false, "zero": false}, "axis": {"values": [0,6,12,18,24,30,36], "title": "Tiempo (meses)"}},
  "y": {"field": "y", "type": "quantitative", "scale": {"domain": [-0.041, 1.04], "nice": false, "zero": false}, "axis": {"values": [0,0.2,0.4,0.6,0.8,1], "labelExpr": "replace(format(datum.value,'.1f'),'.',',')", "title": null}},
  "color": {"field": "s", "type": "nominal", "scale": {"domain": [1,2,3,4], "range": ["#A0182F","#A7C8EB","#BFE2B8","#8A8A8A"]}, "legend": {"title": null, "orient": "none", "legendX": 62, "legendY": 58.5, "symbolType": "M-1.19,0H5.0", "labelOffset": 70, "rowPadding": 19, "labelExpr": "['Sin diabetes-HoIC','Con diabetes-HoIC','Sin diabetes-muerte sin HoIC','Con diabetes-muerte sin HoIC'][datum.value-1]"}},
  "strokeDash": {"field": "s", "type": "nominal", "scale": {"domain": [1,2,3,4], "range": [[1,0],[1,0],[6,3],[6,3]]}, "legend": {"title": null, "orient": "none", "legendX": 62, "legendY": 58.5, "symbolType": "M-1.19,0H5.0", "labelOffset": 70, "rowPadding": 19, "labelExpr": "['Sin diabetes-HoIC','Con diabetes-HoIC','Sin diabetes-muerte sin HoIC','Con diabetes-muerte sin HoIC'][datum.value-1]"}}
 }},
{"data": {"values": [{"t":34.6,"y":0.152,"y2":0.206},{"t":33.1,"y":0.069,"y2":0.121}]}, "mark": {"type": "rule", "color": "black", "strokeWidth": 2},
 "encoding": {"x": {"field": "t", "type": "quantitative"}, "y": {"field": "y", "type": "quantitative"}, "y2": {"field": "y2"}}},
{"data": {"values": [{"t":33.9,"y":0.247,"p":"p = 0,01"},{"t":33.2,"y":0.007,"p":"p < 0,001"}]}, "mark": {"type": "text", "font": "Liberation Sans", "fontSize": 25, "color": "black", "baseline": "middle"},
 "encoding": {"x": {"field": "t", "type": "quantitative"}, "y": {"field": "y", "type": "quantitative"}, "text": {"field": "p"}}},
{"data": {"values": [{}]}, "mark": {"type": "text", "font": "Open Sans", "fontSize": 60, "fontWeight": 600, "color": "black", "baseline": "middle"},
 "encoding": {"x": {"datum": 34.2, "type": "quantitative"}, "y": {"datum": 0.938, "type": "quantitative"}, "text": {"value": "C"}}}
]
},
{
"width": 857, "height": 644,
"layer": [
{"data": {"name": "D"}, "mark": {"type": "line", "interpolate": "step-after", "strokeWidth": 3},
 "encoding": {
  "x": {"field": "t", "type": "quantitative", "scale": {"domain": [-1.45, 37.4], "nice": false, "zero": false}, "axis": {"values": [0,6,12,18,24,30,36], "title": "Tiempo (meses)"}},
  "y": {"field": "y", "type": "quantitative", "scale": {"domain": [-0.041, 1.04], "nice": false, "zero": false}, "axis": {"values": [0,0.2,0.4,0.6,0.8,1], "labelExpr": "replace(format(datum.value,'.1f'),'.',',')", "title": null}},
  "color": {"field": "s", "type": "nominal", "scale": {"domain": [1,2,3,4], "range": ["#A0182F","#A7C8EB","#BFE2B8","#8A8A8A"]}, "legend": {"title": null, "orient": "none", "legendX": 63, "legendY": 57.5, "symbolType": "M-1.19,0H5.0", "labelOffset": 69, "rowPadding": 20, "labelExpr": "['Sin ERC-HoIC','Con ERC-HoIC','Sin ERC-muerte sin HoIC','Con ERC-muerte sin HoIC'][datum.value-1]"}},
  "strokeDash": {"field": "s", "type": "nominal", "scale": {"domain": [1,2,3,4], "range": [[1,0],[1,0],[6,3],[6,3]]}, "legend": {"title": null, "orient": "none", "legendX": 63, "legendY": 57.5, "symbolType": "M-1.19,0H5.0", "labelOffset": 69, "rowPadding": 20, "labelExpr": "['Sin ERC-HoIC','Con ERC-HoIC','Sin ERC-muerte sin HoIC','Con ERC-muerte sin HoIC'][datum.value-1]"}}
 }},
{"data": {"values": [{"t":34.6,"y":0.122,"y2":0.26},{"t":31.9,"y":0.045,"y2":0.143}]}, "mark": {"type": "rule", "color": "black", "strokeWidth": 2},
 "encoding": {"x": {"field": "t", "type": "quantitative"}, "y": {"field": "y", "type": "quantitative"}, "y2": {"field": "y2"}}},
{"data": {"values": [{"t":34.0,"y":0.304,"p":"p < 0,001"},{"t":31.1,"y":-0.005,"p":"p < 0,001"}]}, "mark": {"type": "text", "font": "Liberation Sans", "fontSize": 25, "color": "black", "baseline": "middle"},
 "encoding": {"x": {"field": "t", "type": "quantitative"}, "y": {"field": "y", "type": "quantitative"}, "text": {"field": "p"}}},
{"data": {"values": [{}]}, "mark": {"type": "text", "font": "Open Sans", "fontSize": 60, "fontWeight": 600, "color": "black", "baseline": "middle"},
 "encoding": {"x": {"datum": 35.0, "type": "quantitative"}, "y": {"datum": 0.948, "type": "quantitative"}, "text": {"value": "D"}}}
]
}
]
},
{
"spacing": 27,
"resolve": {"scale": {"color": "independent", "strokeDash": "independent"}, "legend": {"color": "independent", "strokeDash": "independent"}},
"hconcat": [
{
"width": 812, "height": 612,
"layer": [
{"data": {"name": "E"}, "mark": {"type": "line", "interpolate": "step-after", "strokeWidth": 3},
 "encoding": {
  "x": {"field": "t", "type": "quantitative", "scale": {"domain": [-1.45, 37.4], "nice": false, "zero": false}, "axis": {"values": [0,6,12,18,24,30,36], "title": "Tiempo (meses)"}},
  "y": {"field": "y", "type": "quantitative", "scale": {"domain": [-0.041, 1.04], "nice": false, "zero": false}, "axis": {"values": [0,0.2,0.4,0.6,0.8,1], "labelExpr": "replace(format(datum.value,'.1f'),'.',',')", "title": "Incidencia acumulada del evento"}},
  "color": {"field": "s", "type": "nominal", "scale": {"domain": [1,2,3,4], "range": ["#A0182F","#A7C8EB","#BFE2B8","#8A8A8A"]}, "legend": {"title": null, "orient": "none", "legendX": 60, "legendY": 53.5, "symbolType": "M-1.19,0H4.429", "labelOffset": 63, "rowPadding": 18, "labelExpr": "['Sin MP previo-HoIC','Con MP previo-HoIC','Sin MP previo-muerte sin HoIC','Con MP previo-muerte sin HoIC'][datum.value-1]"}},
  "strokeDash": {"field": "s", "type": "nominal", "scale": {"domain": [1,2,3,4], "range": [[1,0],[1,0],[6,3],[6,3]]}, "legend": {"title": null, "orient": "none", "legendX": 60, "legendY": 53.5, "symbolType": "M-1.19,0H4.429", "labelOffset": 63, "rowPadding": 18, "labelExpr": "['Sin MP previo-HoIC','Con MP previo-HoIC','Sin MP previo-muerte sin HoIC','Con MP previo-muerte sin HoIC'][datum.value-1]"}}
 }},
{"data": {"values": [{"t":33.2,"y":0.071,"y2":0.203},{"t":34.8,"y":0.159,"y2":0.281}]}, "mark": {"type": "rule", "color": "black", "strokeWidth": 4},
 "encoding": {"x": {"field": "t", "type": "quantitative"}, "y": {"field": "y", "type": "quantitative"}, "y2": {"field": "y2"}}},
{"data": {"values": [{"t":34.2,"y":0.322,"p":"p = 0,007"},{"t":32.5,"y":0.015,"p":"p < 0,001"}]}, "mark": {"type": "text", "font": "Liberation Sans", "fontSize": 25, "color": "black", "baseline": "middle"},
 "encoding": {"x": {"field": "t", "type": "quantitative"}, "y": {"field": "y", "type": "quantitative"}, "text": {"field": "p"}}},
{"data": {"values": [{}]}, "mark": {"type": "text", "font": "Open Sans", "fontSize": 60, "fontWeight": 600, "color": "black", "baseline": "middle"},
 "encoding": {"x": {"datum": 35.1, "type": "quantitative"}, "y": {"datum": 0.939, "type": "quantitative"}, "text": {"value": "E"}}}
]
},
{
"width": 824, "height": 621,
"layer": [
{"data": {"name": "F"}, "mark": {"type": "line", "interpolate": "step-after", "strokeWidth": 3},
 "encoding": {
  "x": {"field": "t", "type": "quantitative", "scale": {"domain": [-1.45, 37.4], "nice": false, "zero": false}, "axis": {"values": [0,6,12,18,24,30,36], "title": "Tiempo (meses)"}},
  "y": {"field": "y", "type": "quantitative", "scale": {"domain": [-0.041, 1.04], "nice": false, "zero": false}, "axis": {"values": [0,0.2,0.4,0.6,0.8,1], "labelExpr": "replace(format(datum.value,'.1f'),'.',',')", "title": null}},
  "color": {"field": "s", "type": "nominal", "scale": {"domain": [1,2,3,4], "range": ["#A0182F","#A7C8EB","#BFE2B8","#8A8A8A"]}, "legend": {"title": null, "orient": "none", "legendX": 60, "legendY": 54.5, "symbolType": "M-1.19,0H4.81", "labelOffset": 65, "rowPadding": 17, "labelExpr": "['Sin HTP-HoIC','Con HTP-HoIC','Sin HTP-muerte sin HoIC','Con HTP-muerte sin HoIC'][datum.value-1]"}},
  "strokeDash": {"field": "s", "type": "nominal", "scale": {"domain": [1,2,3,4], "range": [[1,0],[1,0],[6,3],[6,3]]}, "legend": {"title": null, "orient": "none", "legendX": 60, "legendY": 54.5, "symbolType": "M-1.19,0H4.81", "labelOffset": 65, "rowPadding": 17, "labelExpr": "['Sin HTP-HoIC','Con HTP-HoIC','Sin HTP-muerte sin HoIC','Con HTP-muerte sin HoIC'][datum.value-1]"}}
 }},
{"data": {"values": [{"t":33.3,"y":0.066,"y2":0.171},{"t":34.7,"y":0.154,"y2":0.239}]}, "mark": {"type": "rule", "color": "black", "strokeWidth": 2},
 "encoding": {"x": {"field": "t", "type": "quantitative"}, "y": {"field": "y", "type": "quantitative"}, "y2": {"field": "y2"}}},
{"data": {"values": [{"t":34.1,"y":0.292,"p":"p = 0,006"},{"t":33.0,"y":0.012,"p":"p < 0,001"}]}, "mark": {"type": "text", "font": "Liberation Sans", "fontSize": 25, "color": "black", "baseline": "middle"},
 "encoding": {"x": {"field": "t", "type": "quantitative"}, "y": {"field": "y", "type": "quantitative"}, "text": {"field": "p"}}},
{"data": {"values": [{}]}, "mark": {"type": "text", "font": "Open Sans", "fontSize": 60, "fontWeight": 600, "color": "black", "baseline": "middle"},
 "encoding": {"x": {"datum": 35.2, "type": "quantitative"}, "y": {"datum": 0.939, "type": "quantitative"}, "text": {"value": "F"}}}
]
},
{
"width": 836, "height": 628,
"layer": [
{"data": {"name": "G"}, "mark": {"type": "line", "interpolate": "step-after", "strokeWidth": 3},
 "encoding": {
  "x": {"field": "t", "type": "quantitative", "scale": {"domain": [-1.45, 37.4], "nice": false, "zero": false}, "axis": {"values": [0,6,12,18,24,30,36], "title": "Tiempo (meses)"}},
  "y": {"field": "y", "type": "quantitative", "scale": {"domain": [-0.041, 1.04], "nice": false, "zero": false}, "axis": {"values": [0,0.2,0.4,0.6,0.8,1], "labelExpr": "replace(format(datum.value,'.1f'),'.',',')", "title": null}},
  "color": {"field": "s", "type": "nominal", "scale": {"domain": [1,2,3,4], "range": ["#A0182F","#A7C8EB","#BFE2B8","#8A8A8A"]}, "legend": {"title": null, "orient": "none", "legendX": 60, "legendY": 55.5, "symbolType": "M-1.19,0H4.81", "labelOffset": 68, "rowPadding": 18, "labelExpr": "['Sin IAo-HoIC','Con IAo-HoIC','Sin IAo-muerte sin HoIC','Con IAo-muerte sin HoIC'][datum.value-1]"}},
  "strokeDash": {"field": "s", "type": "nominal", "scale": {"domain": [1,2,3,4], "range": [[1,0],[1,0],[6,3],[6,3]]}, "legend": {"title": null, "orient": "none", "legendX": 60, "legendY": 55.5, "symbolType": "M-1.19,0H4.81", "labelOffset": 68, "rowPadding": 18, "labelExpr": "['Sin IAo-HoIC','Con IAo-HoIC','Sin IAo-muerte sin HoIC','Con IAo-muerte sin HoIC'][datum.value-1]"}}
 }},
{"data": {"values": [{"t":34.3,"y":0.077,"y2":0.19},{"t":35.6,"y":0.144,"y2":0.181}]}, "mark": {"type": "rule", "color": "#333333", "strokeWidth": 3},
 "encoding": {"x": {"field": "t", "type": "quantitative"}, "y": {"field": "y", "type": "quantitative"}, "y2": {"field": "y2"}}},
{"data": {"values": [{"t":34.3,"y":0.222,"p":"p = 0,58"},{"t":34.0,"y":0.021,"p":"p = 0,007"}]}, "mark": {"type": "text", "font": "Liberation Sans", "fontSize": 25, "color": "black", "baseline": "middle"},
 "encoding": {"x": {"field": "t", "type": "quantitative"}, "y": {"field": "y", "type": "quantitative"}, "text": {"field": "p"}}},
{"data": {"values": [{}]}, "mark": {"type": "text", "font": "Open Sans", "fontSize": 60, "fontWeight": 600, "color": "black", "baseline": "middle"},
 "encoding": {"x": {"datum": 35.2, "type": "quantitative"}, "y": {"datum": 0.936, "type": "quantitative"}, "text": {"value": "G"}}}
]
},
{
"width": 846, "height": 632,
"layer": [
{"data": {"name": "H"}, "mark": {"type": "line", "interpolate": "step-after", "strokeWidth": 3},
 "encoding": {
  "x": {"field": "t", "type": "quantitative", "scale": {"domain": [-1.45, 37.4], "nice": false, "zero": false}, "axis": {"values": [0,6,12,18,24,30,36], "title": "Tiempo (meses)"}},
  "y": {"field": "y", "type": "quantitative", "scale": {"domain": [-0.041, 1.04], "nice": false, "zero": false}, "axis": {"values": [0,0.2,0.4,0.6,0.8,1], "labelExpr": "replace(format(datum.value,'.1f'),'.',',')", "title": null}},
  "color": {"field": "s", "type": "nominal", "scale": {"domain": [1,2,3,4], "range": ["#A0182F","#A7C8EB","#BFE2B8","#8A8A8A"]}, "legend": {"title": null, "orient": "none", "legendX": 61, "legendY": 55.5, "symbolType": "M-1.19,0H4.905", "labelOffset": 67, "rowPadding": 18, "labelExpr": "['Sin tratamiento diurético previo-HoIC','Con tratamiento diurético previo-HoIC','Sin tratamiento diurético previo-muerte sin HoIC','Con tratamiento diurético previo-muerte sin HoIC'][datum.value-1]"}},
  "strokeDash": {"field": "s", "type": "nominal", "scale": {"domain": [1,2,3,4], "range": [[1,0],[1,0],[6,3],[6,3]]}, "legend": {"title": null, "orient": "none", "legendX": 61, "legendY": 55.5, "symbolType": "M-1.19,0H4.905", "labelOffset": 67, "rowPadding": 18, "labelExpr": "['Sin tratamiento diurético previo-HoIC','Con tratamiento diurético previo-HoIC','Sin tratamiento diurético previo-muerte sin HoIC','Con tratamiento diurético previo-muerte sin HoIC'][datum.value-1]"}}
 }},
{"data": {"values": [{"t":33.6,"y":0.036,"y2":0.109},{"t":34.9,"y":0.109,"y2":0.214}]}, "mark": {"type": "rule", "color": "black", "strokeWidth": 2.5},
 "encoding": {"x": {"field": "t", "type": "quantitative"}, "y": {"field": "y", "type": "quantitative"}, "y2": {"field": "y2"}}},
{"data": {"values": [{"t":34.1,"y":0.25,"p":"p < 0,001"},{"t":33.1,"y":-0.01,"p":"p < 0,001"}]}, "mark": {"type": "text", "font": "Liberation Sans", "fontSize": 25, "color": "black", "baseline": "middle"},
 "encoding": {"x": {"field": "t", "type": "quantitative"}, "y": {"field": "y", "type": "quantitative"}, "text": {"field": "p"}}},
{"data": {"values": [{}]}, "mark": {"type": "text", "font": "Open Sans", "fontSize": 60, "fontWeight": 600, "color": "black", "baseline": "middle"},
 "encoding": {"x": {"datum": 34.7, "type": "quantitative"}, "y": {"datum": 0.928, "type": "quantitative"}, "text": {"value": "H"}}}
]
}
]
}
]
}
